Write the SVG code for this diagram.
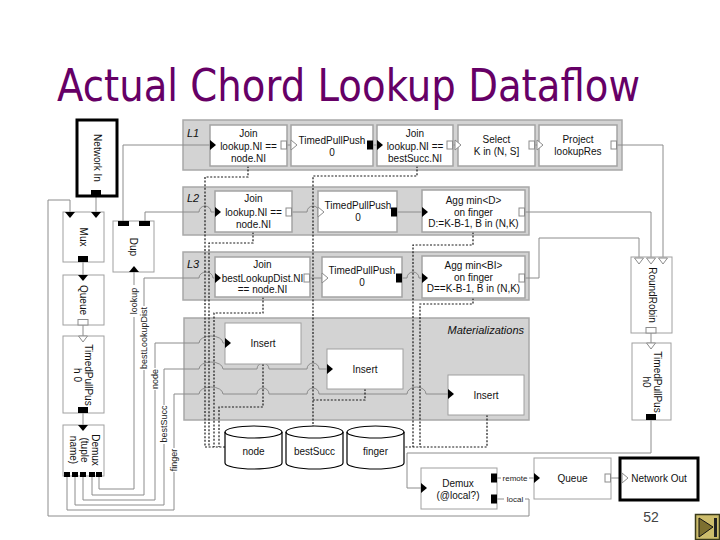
<svg xmlns="http://www.w3.org/2000/svg" width="720" height="540" viewBox="0 0 720 540">
<style>
.grp{fill:#d3d3d3;stroke:#a8a8a8;stroke-width:1.5}
.box{fill:#fff;stroke:#a4a4a4;stroke-width:1.5}
.lbox{fill:#fff;stroke:#a0a0a0;stroke-width:1}
.thick{fill:#fff;stroke:#000;stroke-width:3}
.t{font-family:"Liberation Sans",Arial,sans-serif;font-size:10px;fill:#111;text-anchor:middle}
.gl{font-family:"Liberation Sans",Arial,sans-serif;font-size:11px;font-style:italic;fill:#111}
.wl{font-family:"Liberation Sans",Arial,sans-serif;font-size:9px;fill:#222;text-anchor:middle}
.sl{font-family:"Liberation Sans",Arial,sans-serif;font-size:8px;fill:#222;text-anchor:middle}
.wire{fill:none;stroke:#8c8c8c;stroke-width:1}
.dot{fill:none;stroke:#1a1a1a;stroke-width:1.2;stroke-dasharray:2 1.6}
.push{fill:#000}
.pull{fill:#fff;stroke:#8c8c8c;stroke-width:1}
.cylb{fill:#fff;stroke:#000;stroke-width:1.2}
.cyll{fill:none;stroke:#000;stroke-width:1.2}
</style>
<defs>
<path id="pushR" class="push" d="M0,-5 L6,0 L0,5 Z"/>
<path id="pullR" class="pull" d="M0,-5 L6,0 L0,5 Z"/>
<path id="pushD" class="push" d="M-5,0 L5,0 L0,6 Z"/>
<path id="pullD" class="pull" d="M-4.5,0 L4.5,0 L0,6 Z"/>
<path id="pushU" class="push" d="M-5,0 L5,0 L0,-6 Z"/>
<rect id="pbR" class="push" x="-6" y="-4.5" width="6" height="9"/>
<rect id="phR" class="pull" x="-6" y="-4" width="5.5" height="8"/>
<rect id="pbD" class="push" x="-5" y="-6" width="10" height="6"/>
<rect id="phD" class="pull" x="-5" y="-5.5" width="10" height="5.5"/>
<rect id="pbS" class="push" x="-3" y="-5" width="6" height="5"/>
<g id="cyl"><path class="cylb" d="M0,6 A28.5,6 0 0 1 57,6 V37 A28.5,6 0 0 1 0,37 Z"/><path class="cyll" d="M0,6 A28.5,6 0 0 0 57,6"/></g>
</defs>

<rect width="720" height="540" fill="#fff"/>
<text id="title" x="57" y="101" font-family="'DejaVu Sans',Verdana,sans-serif" font-size="44" fill="#660066" textLength="583" lengthAdjust="spacingAndGlyphs">Actual Chord Lookup Dataflow</text>

<g id="group-L1"><rect class="grp" x="183" y="120" width="439" height="50"/><text class="gl" x="187" y="137">L1</text></g>
<g id="group-L2"><rect class="grp" x="183" y="187" width="346" height="48"/><text class="gl" x="187" y="202">L2</text></g>
<g id="group-L3"><rect class="grp" x="183" y="252" width="346" height="48"/><text class="gl" x="187" y="268">L3</text></g>
<g id="group-materializations"><rect class="grp" x="184" y="318" width="345" height="102"/><text class="gl" x="524" y="334" text-anchor="end">Materializations</text></g>

<g id="connectors">
<!-- left chain -->
<path class="wire" d="M96,196 V212"/>
<path class="wire" d="M83,262 V275"/>
<path class="wire" d="M83,325 V336"/>
<path class="wire" d="M83,413 V425"/>
<!-- local loop -->
<path class="wire" d="M497,499 H504"/>
<path class="wire" d="M525,499 H529 V516 H48 V200 H70 V212"/>
<!-- demux outputs -->
<path class="wire" d="M99,477 V489 H134 V317"/>
<path class="wire" d="M134,285 V272"/>
<path class="wire" d="M92,477 V495 H144 V370"/>
<path class="wire" d="M144,306 V278 H199 a7,6 0 0 1 14,0 H215"/>
<path class="wire" d="M83,477 V500 H155 V390"/>
<path class="wire" d="M155,368 V343 H199 a12,7 0 0 1 24,0 H225"/>
<path class="wire" d="M75,477 V505 H164 V444"/>
<path class="wire" d="M164,405 V369 H199 a12,7 0 0 1 24,0 H257 a6,6 0 0 1 12,0 H307 a6,6 0 0 1 12,0 H327"/>
<path class="wire" d="M67,477 V510 H174 V472"/>
<path class="wire" d="M174,448 V394 H199 a12,7 0 0 1 24,0 H257 a6,6 0 0 1 12,0 H307 a6,6 0 0 1 12,0 H407 a9.5,7 0 0 1 19,0 H448"/>
<text class="wl" transform="translate(137.2,301) rotate(-90)">lookup</text>
<text class="wl" transform="translate(147.2,338) rotate(-90)">bestLookupDist</text>
<text class="wl" transform="translate(158.2,379) rotate(-90)">node</text>
<text class="wl" transform="translate(167.2,424) rotate(-90)">bestSucc</text>
<text class="wl" transform="translate(177.2,460) rotate(-90)">finger</text>
<!-- Dup outputs -->
<path class="wire" d="M123,221 V145 H210"/>
<path class="wire" d="M145,221 V212 H199 a6,6 0 0 1 12,0 H215"/>
<!-- L1 chain -->
<path class="wire" d="M287,145 H291"/>
<path class="wire" d="M373,145 H377"/>
<path class="wire" d="M453,145 H455"/>
<path class="wire" d="M535,145 H537"/>
<path class="wire" d="M617,145 H663 V258"/>
<!-- L2 chain -->
<path class="wire" d="M292,212 H307 a6,6 0 0 1 12,0 H319"/>
<path class="wire" d="M397,212 H422"/>
<path class="wire" d="M525,212 H651 V258"/>
<!-- L3 chain -->
<path class="wire" d="M310,278 H322"/>
<path class="wire" d="M402,278 H407 a6,6 0 0 1 12,0 H422"/>
<path class="wire" d="M525,278 H539 V238 H639 V258"/>
<!-- output side -->
<path class="wire" d="M651,333 V343"/>
<path class="wire" d="M651,420 V453 H407 V488 H421"/>
<path class="wire" d="M497,478 H501"/>
<path class="wire" d="M529,478 H534"/>
<path class="wire" d="M611,478 H622"/>
<text class="sl" x="515" y="481">remote</text>
<text class="sl" x="515" y="502">local</text>
<!-- table access (dotted) -->
<path class="dot" d="M248,166 V177 H205 V447 H225"/>
<path class="dot" d="M253,232 V243 H209 V447"/>
<path class="dot" d="M263,297 V313 H214 V447"/>
<path class="dot" d="M263,364 V407 H219 V447"/>
<path class="dot" d="M417,166 V176 H313 V426"/>
<path class="dot" d="M365,389 V400 H313"/>
<path class="dot" d="M473,232 V245 H413 V447"/>
<path class="dot" d="M473,298 V304 H420 V447"/>
<path class="dot" d="M487,415 V447 H404"/>
</g>

<g id="node-network-in"><rect class="thick" x="77" y="120" width="40" height="76"/><text class="t" transform="translate(93.5,158) rotate(90)">Network In</text><use href="#pbD" x="96" y="196"/></g>
<g id="node-mux"><rect class="lbox" x="63" y="212" width="41" height="50"/><text class="t" transform="translate(79.5,237) rotate(90)">Mux</text><use href="#pushD" x="70" y="212"/><use href="#pushD" x="96" y="212"/><use href="#pbD" x="83" y="262"/></g>
<g id="node-queue-in"><rect class="lbox" x="63" y="275" width="41" height="50"/><text class="t" transform="translate(79.5,300) rotate(90)">Queue</text><use href="#pushD" x="83" y="275"/><use href="#phD" x="83" y="325"/></g>
<g id="node-timedpullpush-in"><rect class="lbox" x="63" y="336" width="41" height="77"/><text class="t" transform="translate(84.5,375) rotate(90)">TimedPullPus<tspan x="0" dy="11">h 0</tspan></text><use href="#pullD" x="83" y="336"/><use href="#pbD" x="83" y="413"/></g>
<g id="node-demux-tuple"><rect class="lbox" x="63" y="425" width="41" height="51"/><text class="t" transform="translate(91.5,450) rotate(90)">Demux<tspan x="0" dy="11">(tuple</tspan><tspan x="0" dy="11">name)</tspan></text><use href="#pushD" x="83" y="425"/><use href="#pbS" x="67" y="477"/><use href="#pbS" x="75" y="477"/><use href="#pbS" x="83" y="477"/><use href="#pbS" x="92" y="477"/><use href="#pbS" x="99" y="477"/></g>
<g id="node-dup"><rect class="lbox" x="113" y="221" width="41" height="51"/><text class="t" transform="translate(129.5,247) rotate(90)">Dup</text><rect class="push" x="118" y="221" width="11" height="5"/><rect class="push" x="139" y="221" width="11" height="5"/><use href="#pushU" x="134" y="272"/></g>

<g id="node-l1-join1"><rect class="box" x="210" y="125" width="77" height="41"/><text class="t" x="248.5" y="137">Join</text><text class="t" x="248.5" y="150">lookup.NI ==</text><text class="t" x="248.5" y="162">node.NI</text><use href="#pushR" x="210" y="145"/><use href="#phR" x="287" y="145"/></g>
<g id="node-l1-tpp"><rect class="box" x="291" y="125" width="82" height="41"/><text class="t" x="332" y="143.5">TimedPullPush</text><text class="t" x="332" y="155.5">0</text><use href="#pullR" x="291" y="145"/><use href="#pbR" x="373" y="145"/></g>
<g id="node-l1-join2"><rect class="box" x="377" y="125" width="76" height="41"/><text class="t" x="415" y="137">Join</text><text class="t" x="415" y="150">lookup.NI ==</text><text class="t" x="415" y="162">bestSucc.NI</text><use href="#pushR" x="377" y="145"/><use href="#phR" x="453" y="145"/></g>
<g id="node-l1-select"><rect class="box" x="458" y="125" width="77" height="41"/><text class="t" x="496.5" y="143">Select</text><text class="t" x="496.5" y="155">K in (N, S]</text><use href="#pullR" x="455" y="145"/><use href="#phR" x="535" y="145"/></g>
<g id="node-l1-project"><rect class="box" x="539" y="125" width="78" height="41"/><text class="t" x="578" y="143">Project</text><text class="t" x="578" y="155">lookupRes</text><use href="#pullR" x="537" y="145"/><use href="#phR" x="617" y="145"/></g>

<g id="node-l2-join"><rect class="box" x="215" y="191" width="77" height="41"/><text class="t" x="253.5" y="202">Join</text><text class="t" x="253.5" y="215.5">lookup.NI ==</text><text class="t" x="253.5" y="228">node.NI</text><use href="#pushR" x="215" y="212"/><use href="#phR" x="292" y="212"/></g>
<g id="node-l2-tpp"><rect class="box" x="318" y="191" width="79" height="41"/><text class="t" x="358" y="208.5">TimedPullPush</text><text class="t" x="358" y="220.5">0</text><use href="#pullR" x="318" y="212"/><use href="#pbR" x="397" y="212"/></g>
<g id="node-l2-agg"><rect class="box" x="422" y="190" width="103" height="42"/><text class="t" x="473.5" y="203.5">Agg min&lt;D&gt;</text><text class="t" x="473.5" y="215.5">on finger</text><text class="t" x="473.5" y="227">D:=K-B-1, B in (N,K)</text><use href="#pushR" x="422" y="212"/><use href="#phR" x="525" y="212"/></g>

<g id="node-l3-join"><rect class="box" x="215" y="257" width="95" height="40"/><text class="t" x="262.5" y="267.5">Join</text><text class="t" x="262.5" y="281.5">bestLookupDist.NI</text><text class="t" x="262.5" y="293">== node.NI</text><use href="#pushR" x="215" y="278"/><use href="#phR" x="310" y="278"/></g>
<g id="node-l3-tpp"><rect class="box" x="322" y="257" width="80" height="40"/><text class="t" x="362" y="273.5">TimedPullPush</text><text class="t" x="362" y="285.5">0</text><use href="#pullR" x="322" y="278"/><use href="#pbR" x="402" y="278"/></g>
<g id="node-l3-agg"><rect class="box" x="422" y="256" width="103" height="42"/><text class="t" x="473.5" y="268.5">Agg min&lt;BI&gt;</text><text class="t" x="473.5" y="280.5">on finger</text><text class="t" x="473.5" y="292">D==K-B-1, B in (N,K)</text><use href="#pushR" x="422" y="278"/><use href="#phR" x="525" y="278"/></g>

<g id="node-insert-node"><rect class="lbox" x="225" y="323" width="76" height="41"/><text class="t" x="263" y="346.5">Insert</text><use href="#pushR" x="225" y="343"/></g>
<g id="node-insert-bestsucc"><rect class="lbox" x="327" y="349" width="76" height="40"/><text class="t" x="365" y="372.5">Insert</text><use href="#pushR" x="327" y="369"/></g>
<g id="node-insert-finger"><rect class="lbox" x="448" y="375" width="76" height="40"/><text class="t" x="486" y="398.5">Insert</text><use href="#pushR" x="448" y="394"/></g>

<g id="table-node"><use href="#cyl" x="225" y="426"/><text class="t" x="253.5" y="455" font-size="11">node</text></g>
<g id="table-bestsucc"><use href="#cyl" x="286" y="426"/><text class="t" x="314.5" y="455" font-size="11">bestSucc</text></g>
<g id="table-finger"><use href="#cyl" x="347" y="426"/><text class="t" x="375.5" y="455" font-size="11">finger</text></g>

<g id="node-roundrobin"><rect class="lbox" x="631" y="257" width="41" height="76"/><text class="t" transform="translate(648.5,295) rotate(90)">RoundRobin</text><use href="#pullD" x="639" y="258"/><use href="#pullD" x="651" y="258"/><use href="#pullD" x="663" y="258"/><use href="#phD" x="651" y="333"/></g>
<g id="node-timedpullpush-out"><rect class="lbox" x="632" y="343" width="39" height="77"/><text class="t" transform="translate(653.5,382) rotate(90)">TimedPullPus<tspan x="0" dy="11">h0</tspan></text><use href="#pullD" x="651" y="343"/><use href="#pbD" x="651" y="420"/></g>
<g id="node-demux-local"><rect class="lbox" x="421" y="468" width="76" height="41"/><text class="t" x="458" y="486.5">Demux</text><text class="t" x="458" y="498.5">(@local?)</text><use href="#pushR" x="421" y="488"/><use href="#pbR" x="497" y="478"/><use href="#pbR" x="497" y="499"/></g>
<g id="node-queue-out"><rect class="lbox" x="534" y="458" width="77" height="41"/><text class="t" x="572.5" y="481.5">Queue</text><use href="#pushR" x="534" y="478"/><use href="#phR" x="611" y="478"/></g>
<g id="node-network-out"><rect class="thick" x="620" y="458" width="78" height="42"/><text class="t" x="659" y="481.5">Network Out</text><use href="#pullR" x="622" y="478"/></g>

<text id="page-number" x="651" y="522" font-family="'Liberation Sans',Arial,sans-serif" font-size="14" fill="#444" text-anchor="middle">52</text>
<g id="nav-button"><rect x="695.5" y="514.5" width="24" height="25" fill="#cdbd6c" stroke="#3a3a1a" stroke-width="1.5"/><path d="M699,518 L713,527 L699,537 Z" fill="#7d7030" stroke="#111" stroke-width="1"/><rect x="714" y="518" width="3" height="19" fill="#222"/></g>
</svg>
